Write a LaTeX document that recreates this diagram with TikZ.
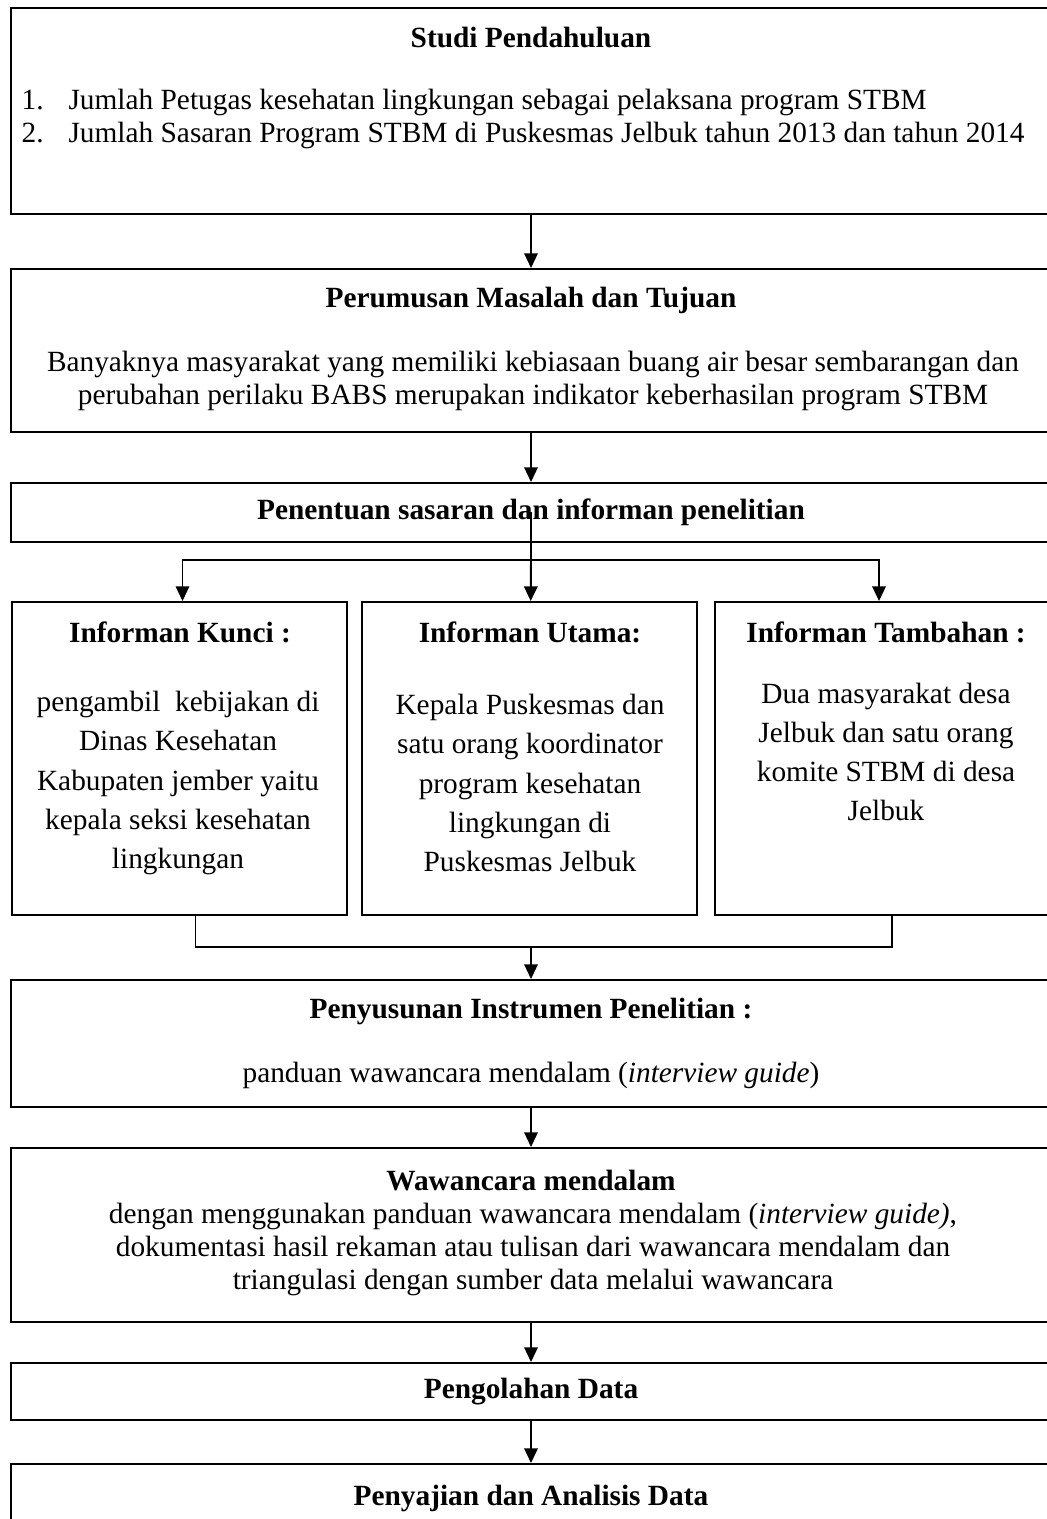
\documentclass[tikz,border=0pt]{standalone}
\usepackage{fontspec}
\setmainfont{Liberation Serif}
\usetikzlibrary{arrows.meta,calc,fit}

\begin{document}
\begin{tikzpicture}[x=0.409pt,y=-0.409pt,font=\fontsize{12}{13.5}\selectfont,
  box/.style={draw,line width=.8pt,inner sep=0pt},
  head/.style={font=\fontsize{12}{13.5}\selectfont\bfseries},
  body/.style={align=center},
  tall/.style={align=center,font=\fontsize{12}{16}\selectfont},
  arr/.style={line width=.8pt,-{Triangle[length=6pt,width=5.5pt]}}]
\useasboundingbox (0,0) rectangle (1046,1519);
% boxes
\node[box,fit={(11,8) (1051,214)}] (studi) {};
\node[box,fit={(11,269) (1051,432)}] (rumus) {};
\node[box,fit={(11,483) (1051,542)}] (tentu) {};
\node[box,fit={(12,602) (347,915)}] (kunci) {};
\node[box,fit={(362,602) (697,915)}] (utama) {};
\node[box,fit={(715,602) (1051,915)}] (tambahan) {};
\node[box,fit={(11,980) (1051,1107)}] (susun) {};
\node[box,fit={(11,1148) (1051,1322)}] (wawan) {};
\node[box,fit={(11,1363) (1051,1420)}] (olah) {};
\node[box,fit={(11,1464) (1051,1560)}] (saji) {};
% texts
\node[head] (studiT) at (531,38) {Studi Pendahuluan};
\node[align=left,anchor=west] (studiB) at (13,119) {\makebox[1.6em][l]{1.}Jumlah Petugas kesehatan lingkungan sebagai pelaksana program STBM\\
  \makebox[1.6em][l]{2.}Jumlah Sasaran Program STBM di Puskesmas Jelbuk tahun 2013 dan tahun 2014};
\node[head] (rumusT) at (531,300) {Perumusan Masalah dan Tujuan};
\node[body] (rumusB) at (533,381) {Banyaknya masyarakat yang memiliki kebiasaan buang air besar sembarangan dan\\
  perubahan perilaku BABS merupakan indikator keberhasilan program STBM};
\node[head] (tentuT) at (531,512) {Penentuan sasaran dan informan penelitian};
\node[head] (kunciT) at (180,632) {Informan Kunci :};
\node[tall] (kunciB) at (178,783) {pengambil\ \ kebijakan di\\Dinas Kesehatan\\Kabupaten jember yaitu\\kepala seksi kesehatan\\lingkungan};
\node[head] (utamaT) at (530,632) {Informan Utama:};
\node[tall] (utamaB) at (530,783) {Kepala Puskesmas dan\\satu orang koordinator\\program kesehatan\\lingkungan di\\Puskesmas Jelbuk};
\node[head] (tambahanT) at (886,632) {Informan Tambahan :};
\node[tall] (tambahanB) at (886,752) {Dua masyarakat desa\\Jelbuk dan satu orang\\komite STBM di desa\\Jelbuk};
\node[head] (susunT) at (531,1011) {Penyusunan Instrumen Penelitian :};
\node[body] (susunB) at (531,1075) {panduan wawancara mendalam (\textit{interview guide})};
\node[head] (wawanT) at (531,1181) {Wawancara mendalam};
\node[body] (wawanB) at (533,1249) {dengan menggunakan panduan wawancara mendalam (\textit{interview guide)},\\
  dokumentasi hasil rekaman atau tulisan dari wawancara mendalam dan\\
  triangulasi dengan sumber data melalui wawancara};
\node[head] (olahT) at (531,1392) {Pengolahan Data};
\node[head] (sajiT) at (531,1498) {Penyajian dan Analisis Data};
% connectors
\coordinate (split) at (531,560);
\coordinate (join) at (531,947);
\draw[arr] (studi) -- (rumus);
\draw[arr] (rumus) -- (tentu);
\draw[line width=.8pt] (tentu.center) -- (split);
\draw[arr] (split) -| ($(kunci.north)+(3,0)$);
\draw[arr] (split) -- (utama);
\draw[arr] (split) -| ($(tambahan.north)+(-4,0)$);
\draw[line width=.8pt] ($(kunci.south)+(16,0)$) |- (join) -| ($(tambahan.south)+(9,0)$);
\draw[arr] (join) -- (susun);
\draw[arr] (susun) -- (wawan);
\draw[arr] (wawan) -- (olah);
\draw[arr] (olah) -- (saji);
\end{tikzpicture}
\end{document}
